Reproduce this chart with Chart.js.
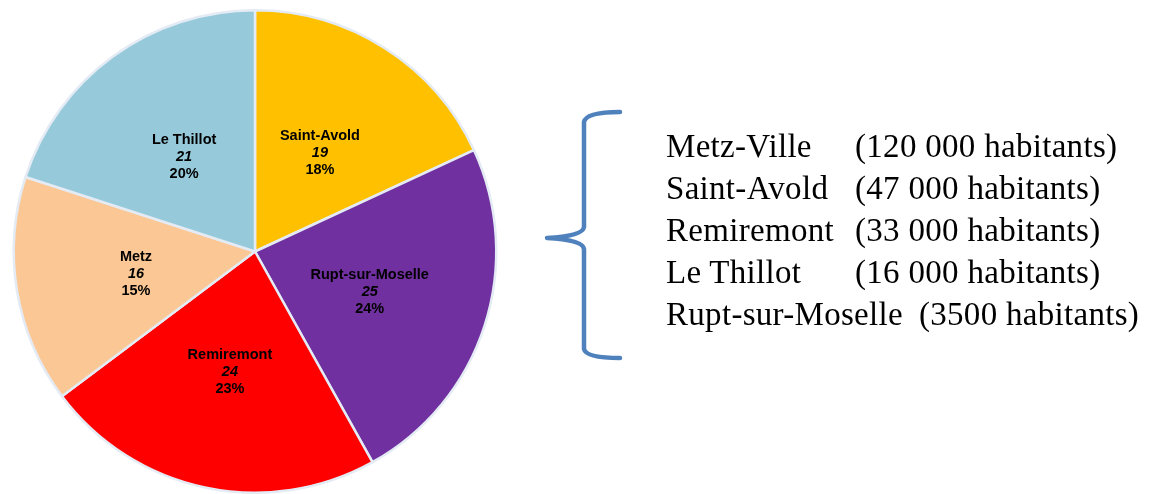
<!DOCTYPE html>
<html lang="fr">
<head>
<meta charset="utf-8">
<title>Communes</title>
<script src="https://cdn.jsdelivr.net/npm/chart.js"></script>
<style>
  html, body { margin: 0; padding: 0; background: #fff; }
  #page { position: relative; width: 1162px; height: 494px; overflow: hidden; }
  #pieBox { position: absolute; left: 0; top: 0; width: 510px; height: 494px; }
  #brace { position: absolute; left: 0; top: 0; }
  #towns { position: absolute; left: 666px; top: 125px; font-family: "Liberation Serif", serif;
           font-size: 33px; line-height: 42px; color: #000; letter-spacing: 0.3px; white-space: pre; }
  #towns .name { display: inline-block; min-width: 173px; padding-right: 16px; }
</style>
</head>
<body>
<div id="page">
  <div id="pieBox"><canvas id="pie"></canvas></div>
  <svg id="brace" width="1162" height="494">
    <path d="M620,112 Q586,112 584,122 L584,227 Q583,236 547,238 Q583,240 584,249 L584,349 Q586,358 620,358"
          fill="none" stroke="#4f81bd" stroke-width="4.5" stroke-linecap="round" stroke-linejoin="round"/>
  </svg>
  <div id="towns"></div>
</div>
<script>
// slices, clockwise from 12 o'clock
const communes = ['Saint-Avold', 'Rupt-sur-Moselle', 'Remiremont', 'Metz', 'Le Thillot'];
const valeurs = [19, 25, 24, 16, 21];
const couleurs = ['#ffc000', '#7030a0', '#ff0000', '#fbc895', '#96cadb'];

// list on the right
const villes = ['Metz-Ville', 'Saint-Avold', 'Remiremont', 'Le Thillot', 'Rupt-sur-Moselle'];
const habitants = ['120 000', '47 000', '33 000', '16 000', '3500'];

const towns = document.getElementById('towns');
villes.forEach((v, i) => {
  const row = document.createElement('div');
  const n = document.createElement('span');
  n.className = 'name';
  n.textContent = v;
  row.appendChild(n);
  row.appendChild(document.createTextNode('(' + habitants[i] + ' habitants)'));
  towns.appendChild(row);
});

const total = valeurs.reduce((a, b) => a + b, 0);

// name / value / percent inside each slice
const sliceLabels = {
  id: 'sliceLabels',
  afterDatasetsDraw(chart) {
    const ctx = chart.ctx;
    const meta = chart.getDatasetMeta(0);
    ctx.save();
    ctx.fillStyle = '#000';
    ctx.textAlign = 'center';
    ctx.textBaseline = 'middle';
    meta.data.forEach((arc, i) => {
      const p = arc.tooltipPosition();
      const v = valeurs[i];
      const y = p.y + 3;
      ctx.font = 'bold 14.5px "Liberation Sans", Arial, sans-serif';
      ctx.fillText(communes[i], p.x, y - 17);
      ctx.font = 'italic bold 14.5px "Liberation Sans", Arial, sans-serif';
      ctx.fillText(String(v), p.x, y);
      ctx.font = 'bold 14.5px "Liberation Sans", Arial, sans-serif';
      ctx.fillText(Math.round(v / total * 100) + '%', p.x, y + 17);
    });
    ctx.restore();
  }
};

new Chart(document.getElementById('pie'), {
  type: 'pie',
  data: {
    labels: communes,
    datasets: [{
      data: valeurs,
      backgroundColor: couleurs,
      borderColor: '#e4ebf4',
      borderWidth: 2.5
    }]
  },
  options: {
    responsive: true,
    maintainAspectRatio: false,
    animation: false,
    layout: { padding: { top: 9, bottom: 0 } },
    plugins: {
      legend: { display: false },
      tooltip: { enabled: false }
    }
  },
  plugins: [sliceLabels]
});
</script>
</body>
</html>
